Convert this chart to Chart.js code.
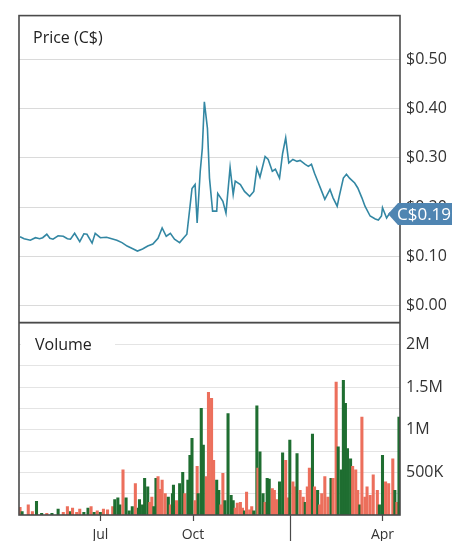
<!DOCTYPE html>
<html lang="en">
<head>
    <meta charset="UTF-8">
    <title>Price and Volume</title>
    <script src="https://cdn.jsdelivr.net/npm/chart.js"></script>
    <style>
        body { margin: 0; background: #fff; }
        canvas { display: block; }
    </style>
</head>
<body>
    <canvas id="stockChart" width="452" height="541"></canvas>
    <script>
        // days counted from the left edge of the chart (mid April)
        const priceDays = [1,5,11,16,20,23,27,30,33,38,43,47,50,54,59,63,66,71,74,79,85,90,95,100,105,110,115,120,125,130,135,139,143,147,151,156,160,163,166,168,171,173,176,178,180,183,185,188,192,193,198,201,205,208,210,215,219,224,228,231,234,239,242,246,249,253,256,259,262,266,270,273,278,281,284,287,290,294,297,302,305,309,311,315,318,321,326,329,333,336,341,346,349,352,353,357,360,364];
        const prices = [0.140,0.136,0.133,0.138,0.136,0.138,0.145,0.137,0.135,0.142,0.141,0.136,0.135,0.147,0.130,0.146,0.145,0.127,0.147,0.138,0.139,0.136,0.133,0.128,0.121,0.116,0.111,0.115,0.121,0.125,0.137,0.158,0.141,0.147,0.135,0.128,0.138,0.145,0.200,0.238,0.246,0.168,0.273,0.319,0.414,0.360,0.259,0.192,0.192,0.228,0.212,0.188,0.281,0.226,0.253,0.246,0.232,0.222,0.232,0.279,0.261,0.303,0.297,0.273,0.277,0.259,0.309,0.341,0.290,0.297,0.293,0.295,0.287,0.283,0.287,0.269,0.253,0.232,0.216,0.236,0.219,0.202,0.222,0.259,0.267,0.259,0.249,0.239,0.219,0.202,0.182,0.176,0.174,0.182,0.199,0.178,0.188,0.190];

        const volumeDays = [1,3,9,13,17,22,27,32,38,43,47,50,52,56,59,63,67,70,73,76,79,82,86,91,93,96,98,101,104,107,110,113,116,117,120,122,125,127,129,131,133,135,137,139,142,145,147,149,150,151,153,156,159,161,164,166,168,171,173,174,177,179,182,183,184,187,189,192,194,196,198,200,203,206,208,210,212,215,217,219,221,224,226,228,231,232,234,237,239,241,243,246,248,250,253,256,259,261,263,266,268,270,273,276,278,280,282,283,285,287,290,292,294,297,300,303,305,308,310,313,315,317,319,322,324,327,329,331,333,336,338,341,344,348,350,353,356,359,363,365,367,369];
        // volume in millions of shares
        const volumes = [0.09,0.04,0.12,0.04,0.16,0.02,0.02,0.02,0.07,0.03,0.10,0.04,0.08,0.03,0.07,0.03,0.08,0.10,0.03,0.05,0.03,0.07,0.06,0.10,0.18,0.20,0.12,0.53,0.20,0.05,0.10,0.37,0.08,0.18,0.12,0.43,0.33,0.15,0.21,0.10,0.43,0.45,0.30,0.41,0.25,0.21,0.12,0.25,0.35,0.10,0.17,0.37,0.50,0.25,0.41,0.70,0.90,0.17,0.57,0.25,1.25,0.82,0.45,0.25,1.44,1.37,0.64,0.41,0.29,0.12,0.49,0.17,1.19,0.23,0.17,0.08,0.14,0.15,0.08,0.05,0.27,0.06,0.10,0.05,1.28,0.55,0.74,0.25,0.15,0.43,0.42,0.31,0.29,0.18,0.39,0.73,0.64,0.20,0.88,0.39,0.33,0.72,0.29,0.21,0.15,0.33,0.55,0.18,0.95,0.33,0.29,0.12,0.25,0.45,0.21,0.43,0.43,1.56,0.80,0.53,1.58,1.31,0.78,0.66,0.57,0.53,0.29,0.12,1.15,0.21,0.33,0.23,0.47,0.29,0.12,0.70,0.39,0.37,0.66,0.29,0.15,1.15];
        // 1 = closed up (green), 0 = closed down (red)
        const volumeUp = [0,1,0,0,1,1,0,1,1,0,0,1,0,0,0,1,1,0,1,0,1,0,0,0,1,1,1,0,1,1,1,0,1,1,1,1,1,0,0,1,1,0,0,0,0,1,0,1,1,1,0,1,1,0,1,1,1,0,0,1,1,1,0,0,0,0,0,1,1,0,0,1,1,1,1,0,0,0,0,1,0,0,0,1,1,0,1,1,0,1,1,0,0,0,1,1,0,0,1,0,0,1,0,0,1,0,0,0,1,0,1,0,0,0,0,1,0,0,1,1,1,1,1,1,0,0,0,1,0,0,0,0,0,0,1,1,0,0,0,1,0,1];

        const xTickDays = [79, 169, 263, 353];
        const xTickLabels = ['Jul', 'Oct', '', 'Apr'];
        const priceTicks = [0, 0.1, 0.2, 0.3, 0.4, 0.5];
        const volumeTicks = [0.25, 0.5, 0.75, 1, 1.25, 1.5, 1.75, 2, 2.25];
        const volumeTickLabels = ['', '500K', '', '1M', '', '1.5M', '', '2M', ''];

        const FONT = "'Open Sans', 'Noto Sans', sans-serif";

        const framePlugin = {
            id: 'frame',
            beforeDatasetsDraw(chart) {
                const ctx = chart.ctx;
                const area = chart.chartArea;
                const yv = chart.scales.yv;
                ctx.save();
                ctx.font = '16px ' + FONT;
                ctx.fillStyle = '#fff';
                ctx.fillRect(area.left + 2, yv.top + 11, 94, 22);
                ctx.fillStyle = '#222';
                ctx.textBaseline = 'middle';
                ctx.fillText('Price (C$)', area.left + 14, area.top + 23);
                ctx.fillText('Volume', area.left + 16, yv.top + 23);
                ctx.restore();
            },
            afterDraw(chart) {
                const ctx = chart.ctx;
                const area = chart.chartArea;
                const x = chart.scales.x;
                const y = chart.scales.y;
                const yv = chart.scales.yv;
                ctx.save();
                ctx.strokeStyle = '#4a4a4a';
                ctx.lineWidth = 1.6;
                ctx.strokeRect(area.left, area.top, area.right - area.left, area.bottom - area.top);
                ctx.beginPath();
                ctx.moveTo(area.left, yv.top);
                ctx.lineTo(area.right, yv.top);
                ctx.stroke();
                // x tick marks, the year boundary is longer
                ctx.lineWidth = 1.2;
                xTickDays.forEach((d, i) => {
                    const px = Math.round(x.getPixelForValue(d)) + 0.5;
                    ctx.beginPath();
                    ctx.moveTo(px, area.bottom);
                    ctx.lineTo(px, area.bottom + (xTickLabels[i] ? 6 : 26));
                    ctx.stroke();
                });
                // last price flag
                const last = prices[prices.length - 1];
                const py = y.getPixelForValue(last) + 2;
                const tip = area.right - 12;
                ctx.fillStyle = '#4f85b2';
                ctx.beginPath();
                ctx.moveTo(tip, py);
                ctx.lineTo(tip + 10, py - 11);
                ctx.lineTo(452, py - 11);
                ctx.lineTo(452, py + 11);
                ctx.lineTo(tip + 10, py + 11);
                ctx.closePath();
                ctx.fill();
                ctx.fillStyle = '#fff';
                ctx.font = '17px ' + FONT;
                ctx.textBaseline = 'middle';
                ctx.fillText('C$' + last.toFixed(2), tip + 9, py + 1);
                ctx.restore();
            }
        };

        const ctx = document.getElementById('stockChart').getContext('2d');
        new Chart(ctx, {
            type: 'bar',
            data: {
                datasets: [{
                    type: 'line',
                    data: priceDays.map((d, i) => ({ x: d, y: prices[i] })),
                    yAxisID: 'y',
                    borderColor: '#3387a3',
                    borderWidth: 1.6,
                    pointRadius: 0,
                    tension: 0
                }, {
                    type: 'bar',
                    data: volumeDays.map((d, i) => ({ x: d, y: volumes[i] })),
                    yAxisID: 'yv',
                    backgroundColor: volumeUp.map(u => u ? '#1f6e31' : '#ec6f5c'),
                    barThickness: 2.4,
                    grouped: false
                }]
            },
            options: {
                responsive: false,
                animation: false,
                layout: { padding: { left: 19, top: 14 } },
                plugins: { legend: { display: false }, tooltip: { enabled: false } },
                scales: {
                    x: {
                        type: 'linear',
                        offset: false,
                        min: 0,
                        max: 370,
                        grid: { display: false },
                        border: { display: false },
                        afterBuildTicks: axis => { axis.ticks = xTickDays.map(v => ({ value: v })); },
                        afterFit: axis => { axis.height = 26; },
                        ticks: {
                            padding: 4,
                            autoSkip: false,
                            maxRotation: 0,
                            color: '#333',
                            font: { family: FONT, size: 14 },
                            callback: (v) => xTickLabels[xTickDays.indexOf(v)]
                        }
                    },
                    y: {
                        position: 'right',
                        stack: 'panels',
                        stackWeight: 308,
                        min: -0.0344,
                        max: 0.589,
                        grid: { color: '#dadada', drawTicks: false },
                        border: { display: false },
                        afterBuildTicks: axis => { axis.ticks = priceTicks.map(v => ({ value: v })); },
                        afterFit: axis => { axis.width = 52; },
                        ticks: {
                            padding: 6,
                            autoSkip: false,
                            color: '#333',
                            font: { family: FONT, size: 16 },
                            callback: v => '$' + v.toFixed(2)
                        }
                    },
                    yv: {
                        position: 'right',
                        stack: 'panels',
                        stackWeight: 193,
                        min: 0,
                        max: 2.257,
                        grid: { color: '#e4e4e4', drawTicks: false },
                        border: { display: false },
                        afterBuildTicks: axis => { axis.ticks = volumeTicks.map(v => ({ value: v })); },
                        afterFit: axis => { axis.width = 52; },
                        ticks: {
                            padding: 6,
                            autoSkip: false,
                            color: '#333',
                            font: { family: FONT, size: 16 },
                            callback: v => volumeTickLabels[volumeTicks.indexOf(v)]
                        }
                    }
                }
            },
            plugins: [framePlugin]
        });
    </script>
</body>
</html>
